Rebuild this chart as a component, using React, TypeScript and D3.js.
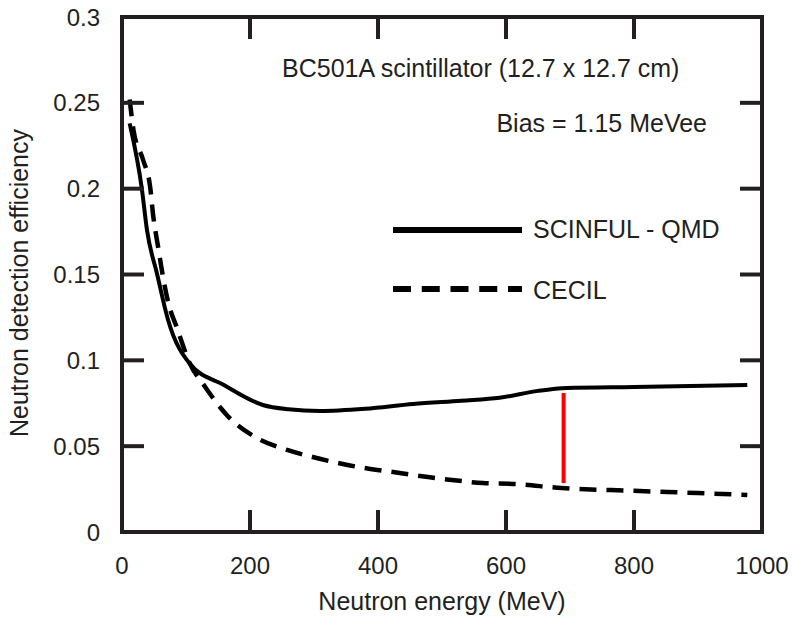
import React from "react";
import * as d3 from "d3";

const W = 792;
const H = 617;

// SCINFUL - QMD (solid)
const qmdEnergy = [12, 31, 39, 55, 72, 106, 160, 220, 260, 309, 380, 455, 530, 590, 650, 695, 800, 977];
const qmdEff = [0.238, 0.2, 0.176, 0.15, 0.1235, 0.098, 0.0855, 0.074, 0.0715, 0.0705, 0.0718, 0.0746, 0.0765, 0.0782, 0.0822, 0.0839, 0.0845, 0.0856];

// CECIL (dashed)
const cecilEnergy = [12, 18, 33, 44, 49, 56, 63, 72, 86, 105, 130, 164, 208, 258, 298, 345, 388, 434, 478, 523, 564, 611, 687, 800, 900, 977];
const cecilEff = [0.252, 0.234, 0.2167, 0.201, 0.1835, 0.167, 0.151, 0.134, 0.1188, 0.099, 0.0845, 0.068, 0.0553, 0.0478, 0.0437, 0.0396, 0.0367, 0.0344, 0.032, 0.03, 0.0285, 0.028, 0.0256, 0.024, 0.0227, 0.0216];

// red marker line
const markerEnergy = 690;
const markerTop = 0.081;
const markerBottom = 0.0285;

const xTicks = [0, 200, 400, 600, 800, 1000];
const yTicks = [0, 0.05, 0.1, 0.15, 0.2, 0.25, 0.3];
const yTickLabels = ["0", "0.05", "0.1", "0.15", "0.2", "0.25", "0.3"];

const legendLabels = ["SCINFUL - QMD", "CECIL"];
const annotation1 = "BC501A scintillator (12.7 x 12.7 cm)";
const annotation2 = "Bias = 1.15 MeVee";

const M = { left: 122, right: 762, top: 17, bottom: 532 };
const INK = "#231f20";
const FONT = "'Liberation Sans', Arial, Helvetica, sans-serif";

export default function App() {
  const x = d3.scaleLinear().domain([0, 1000]).range([M.left, M.right]);
  const y = d3.scaleLinear().domain([0, 0.3]).range([M.bottom, M.top]);

  const line = d3
    .line<[number, number]>()
    .x((d) => x(d[0]))
    .y((d) => y(d[1]))
    .curve(d3.curveMonotoneX);

  const qmd = qmdEnergy.map((e, i) => [e, qmdEff[i]] as [number, number]);
  const cecil = cecilEnergy.map((e, i) => [e, cecilEff[i]] as [number, number]);

  const tickLen = 22;
  const sw = 4;

  return (
    <svg
      width={W}
      height={H}
      style={{ position: "absolute", left: 0, top: 0, background: "#fff" }}
      fontFamily={FONT}
    >
      <rect x={0} y={0} width={W} height={H} fill="#fff" />
      {/* curves */}
      <path d={line(cecil) || ""} fill="none" stroke="#000" strokeWidth={4.5} strokeDasharray="17 10" />
      <path d={line(qmd) || ""} fill="none" stroke="#000" strokeWidth={4} strokeLinejoin="round" />
      <line
        x1={x(markerEnergy)}
        x2={x(markerEnergy)}
        y1={y(markerTop)}
        y2={y(markerBottom)}
        stroke="#ff0000"
        strokeWidth={4}
      />

      {/* ticks */}
      {xTicks.map((t) => (
        <g key={"xt" + t}>
          <line x1={x(t)} x2={x(t)} y1={M.bottom} y2={M.bottom - tickLen} stroke={INK} strokeWidth={sw} />
          <line x1={x(t)} x2={x(t)} y1={M.top} y2={M.top + tickLen} stroke={INK} strokeWidth={sw} />
          <text x={x(t)} y={574} textAnchor="middle" fontSize={24} fill={INK}>
            {t}
          </text>
        </g>
      ))}
      {yTicks.map((t, i) => (
        <g key={"yt" + t}>
          <line x1={M.left} x2={M.left + tickLen} y1={y(t)} y2={y(t)} stroke={INK} strokeWidth={sw} />
          <line x1={M.right} x2={M.right - tickLen} y1={y(t)} y2={y(t)} stroke={INK} strokeWidth={sw} />
          <text x={100} y={y(t)} dy="0.36em" textAnchor="end" fontSize={24} fill={INK}>
            {yTickLabels[i]}
          </text>
        </g>
      ))}

      {/* frame */}
      <rect
        x={M.left}
        y={M.top}
        width={M.right - M.left}
        height={M.bottom - M.top}
        fill="none"
        stroke={INK}
        strokeWidth={sw}
      />

      {/* axis titles */}
      <text x={(M.left + M.right) / 2} y={610} textAnchor="middle" fontSize={25} fill={INK}>
        Neutron energy (MeV)
      </text>
      <text
        transform={`translate(28, 283) rotate(-90)`}
        textAnchor="middle"
        fontSize={25}
        fill={INK}
      >
        Neutron detection efficiency
      </text>

      {/* annotations */}
      <text x={282} y={77} fontSize={25} fill={INK}>
        {annotation1}
      </text>
      <text x={707} y={132} textAnchor="end" fontSize={25} fill={INK}>
        {annotation2}
      </text>

      {/* legend */}
      <line x1={393} x2={522} y1={230} y2={230} stroke="#000" strokeWidth={6} />
      <text x={533} y={238} fontSize={25} fill={INK}>
        {legendLabels[0]}
      </text>
      <line x1={393} x2={522} y1={289} y2={289} stroke="#000" strokeWidth={6} strokeDasharray="18 10.75" />
      <text x={533} y={299} fontSize={25} fill={INK}>
        {legendLabels[1]}
      </text>
    </svg>
  );
}
